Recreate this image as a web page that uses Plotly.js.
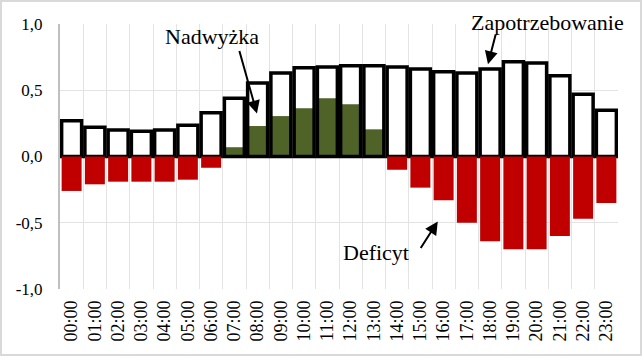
<!DOCTYPE html>
<html>
<head>
<meta charset="utf-8">
<script src="https://cdn.plot.ly/plotly-3.0.1.min.js"></script>
<style>
html,body{margin:0;padding:0;background:#fff;}
#chart{width:638px;height:352px;border:2px solid #d9d9d9;}
</style>
</head>
<body>
<div id="chart"></div>
<script>
var hours = ["00:00","01:00","02:00","03:00","04:00","05:00","06:00","07:00","08:00","09:00","10:00","11:00",
             "12:00","13:00","14:00","15:00","16:00","17:00","18:00","19:00","20:00","21:00","22:00","23:00"];
var demand  = [0.27,0.22,0.20,0.19,0.20,0.235,0.33,0.44,0.555,0.63,0.67,0.675,
               0.685,0.685,0.675,0.66,0.64,0.63,0.66,0.715,0.705,0.61,0.47,0.35];
var surplus = [0,0,0,0,0,0,0,0.07,0.23,0.305,0.365,0.44,
               0.395,0.205,0,0,0,0,0,0,0,0,0,0];
var deficit = [-0.26,-0.21,-0.19,-0.19,-0.19,-0.175,-0.085,0,0,0,0,0,
               0,0,-0.10,-0.235,-0.33,-0.50,-0.64,-0.70,-0.70,-0.60,-0.47,-0.35];
var yTicks = [-1,-0.5,0,0.5,1];
var yTickText = ["-1,0","-0,5","0,0","0,5","1,0"];

var W = 0.86;
var traces = [
  {type:"bar", x:hours, y:demand, width:W, marker:{color:"#ffffff", line:{width:0}}, hoverinfo:"skip"},
  {type:"bar", x:hours, y:surplus, width:W, marker:{color:"#4f6228", line:{width:0}}},
  {type:"bar", x:hours, y:demand, width:W, marker:{color:"rgba(0,0,0,0)", line:{color:"#000000", width:3.5}}},
  {type:"bar", x:hours, y:deficit, width:W, marker:{color:"#c00000", line:{width:0}}}
];

var font = "Liberation Serif, Times New Roman, serif";
var layout = {
  width:638, height:352,
  margin:{l:58, r:22, t:22, b:65},
  paper_bgcolor:"#ffffff", plot_bgcolor:"#ffffff",
  barmode:"overlay", showlegend:false,
  font:{family:font, color:"#000000", size:17},
  xaxis:{type:"category", range:[-0.5,23.5], tickson:"boundaries", showgrid:true, gridcolor:"#e3e3e3", gridwidth:1,
         tickangle:-90, ticks:"", showline:false, zeroline:false, ticklabelstandoff:7,
         tickfont:{family:font, size:18, color:"#000"}, fixedrange:true},
  yaxis:{range:[-1,1], tickvals:yTicks, ticktext:yTickText, showgrid:true, gridcolor:"#e3e3e3", gridwidth:1,
         zeroline:true, zerolinecolor:"#a6a6a6", zerolinewidth:2, showline:true, linecolor:"#bfbfbf", linewidth:2,
         ticks:"", ticklabelstandoff:12, tickfont:{family:font, size:17, color:"#000"}, fixedrange:true},
  annotations:[
    {xref:"paper", yref:"paper", x:0.272, y:0.954, xanchor:"center", yanchor:"middle", text:"Nadwyżka", showarrow:false, font:{family:font, size:22, color:"#000"}},
    {xref:"paper", yref:"paper", x:0.353, y:0.662, ax:-18, ay:-64, text:"", showarrow:true, arrowhead:2, arrowsize:1.3, arrowwidth:2, arrowcolor:"#000"},
    {xref:"paper", yref:"paper", x:0.873, y:1.004, xanchor:"center", yanchor:"middle", text:"Zapotrzebowanie", showarrow:false, font:{family:font, size:22, color:"#000"}},
    {xref:"paper", yref:"paper", x:0.767, y:0.848, ax:8, ay:-31, text:"", showarrow:true, arrowhead:2, arrowsize:1.3, arrowwidth:2, arrowcolor:"#000"},
    {xref:"paper", yref:"paper", x:0.566, y:0.137, xanchor:"center", yanchor:"middle", text:"Deficyt", showarrow:false, font:{family:font, size:22, color:"#000"}},
    {xref:"paper", yref:"paper", x:0.677, y:0.255, ax:-18, ay:28, text:"", showarrow:true, arrowhead:2, arrowsize:1.3, arrowwidth:2, arrowcolor:"#000"}
  ]
};
Plotly.newPlot("chart", traces, layout, {displayModeBar:false, staticPlot:true});
</script>
</body>
</html>
